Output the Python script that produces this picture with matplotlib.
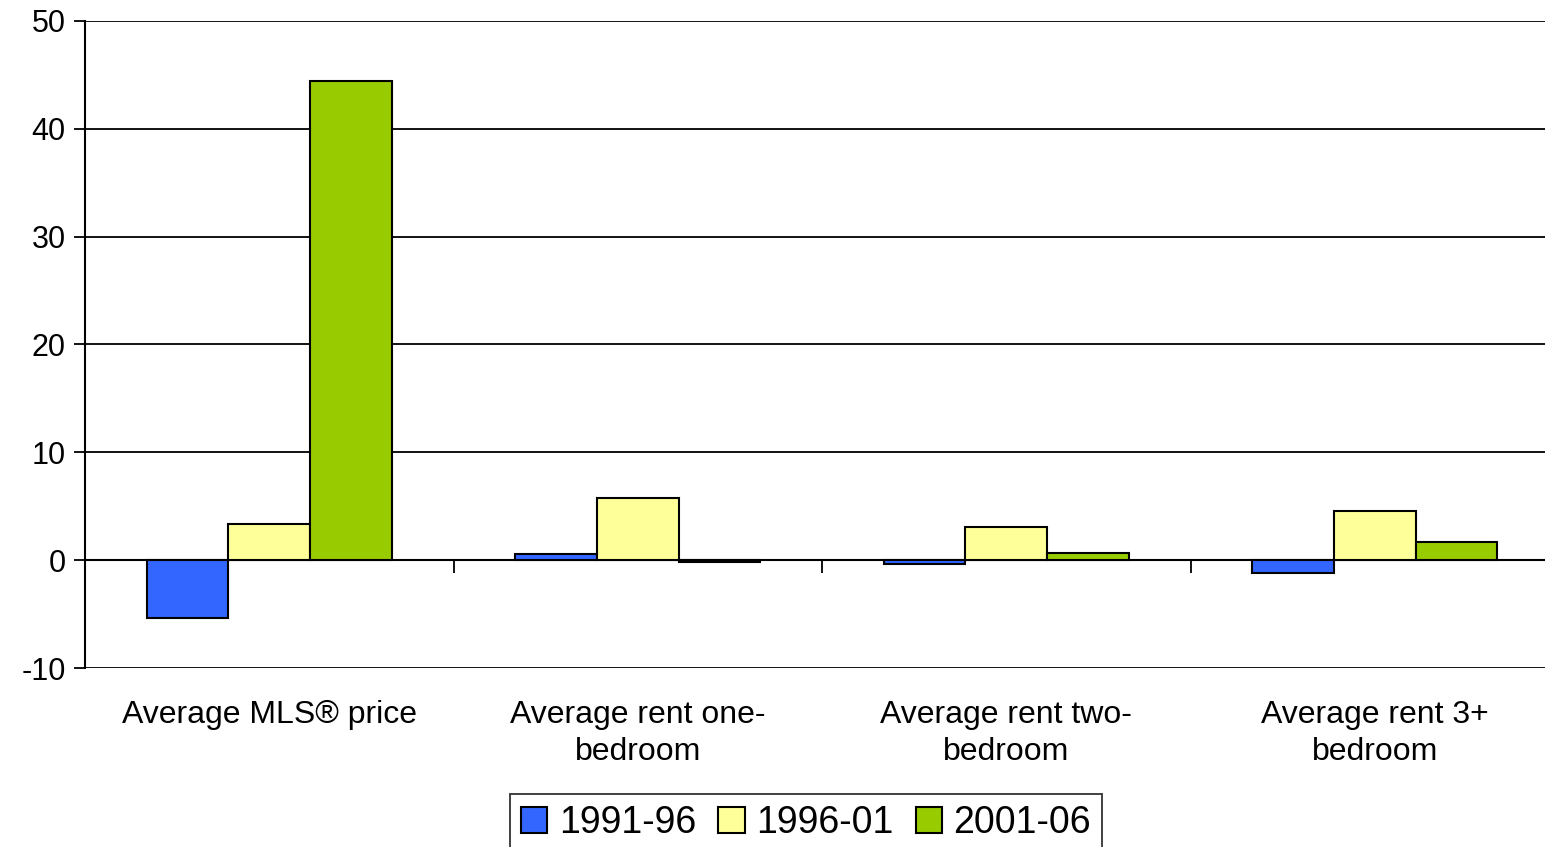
import numpy as np
import matplotlib
matplotlib.use("Agg")
import matplotlib.pyplot as plt
import matplotlib.transforms as mtransforms

plt.rcParams['font.family'] = ['Liberation Sans', 'DejaVu Sans']
plt.rcParams['axes.unicode_minus'] = False

categories = ["Average MLS® price", "Average rent one-\nbedroom",
              "Average rent two-\nbedroom", "Average rent 3+\nbedroom"]
periods = ["1991-96", "1996-01", "2001-06"]
change_9196 = [-5.4, 0.6, -0.4, -1.2]
change_9601 = [3.4, 5.75, 3.1, 4.6]
change_0106 = [44.4, -0.2, 0.7, 1.7]
colors = ["#3366FF", "#FFFF99", "#99CC00"]

series = [change_9196, change_9601, change_0106]

fig = plt.figure(figsize=(15.45, 8.47), dpi=100)
ax = fig.add_axes([85 / 1545, 179 / 847, 1474 / 1545, 647 / 847])

x = np.arange(len(categories))
w = 0.222
for i, (vals, col, lab) in enumerate(zip(series, colors, periods)):
    ax.bar(x + (i - 1) * w, vals, width=w, color=col, edgecolor="black",
           linewidth=1.5, label=lab, zorder=3)

ax.set_xlim(-0.5, len(categories) - 0.5)
ax.set_ylim(-10, 50)
ax.set_yticks(np.arange(-10, 51, 10))
ax.yaxis.grid(True, color="black", linewidth=1.3, zorder=0)
ax.tick_params(axis="y", labelsize=22, length=8, width=1.3, pad=6)

for s in ["top", "right"]:
    ax.spines[s].set_visible(False)
ax.spines["left"].set_linewidth(1.5)

# horizontal axis sits at zero, with tick marks between categories
ax.spines["bottom"].set_position(("data", 0))
ax.spines["bottom"].set_linewidth(1.5)
ax.set_xticks(np.arange(0.5, len(categories) - 0.5, 1.0))
ax.set_xticklabels([])
ax.tick_params(axis="x", direction="out", length=9, width=1.3)

trans = mtransforms.blended_transform_factory(ax.transData, ax.transAxes)
for xi, name in zip(x, categories):
    ax.text(xi, -0.05, name, transform=trans, ha="center", va="top",
            fontsize=23, linespacing=1.28)

leg = fig.legend(loc="upper center", bbox_to_anchor=(806 / 1545, 53 / 847),
                 ncol=3, fontsize=27, frameon=True, fancybox=False,
                 edgecolor="black", handlelength=0.7, handleheight=0.7,
                 handletextpad=0.3, columnspacing=0.6, borderpad=0.3,
                 borderaxespad=0)
leg.get_frame().set_linewidth(1.3)

fig.savefig("out.png", dpi=100)
